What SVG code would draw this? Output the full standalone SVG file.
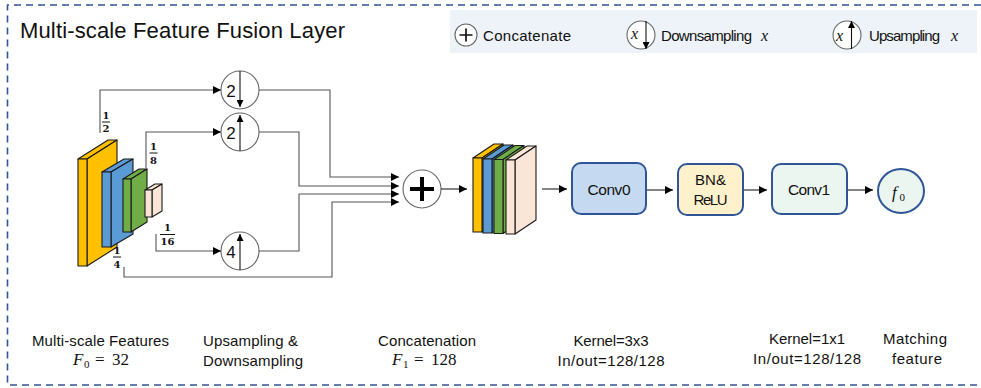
<svg xmlns="http://www.w3.org/2000/svg" width="981" height="388" viewBox="0 0 981 388">
  <defs>
    <marker id="arr" viewBox="0 0 10 10" refX="10" refY="5" markerWidth="9" markerHeight="8" markerUnits="userSpaceOnUse" orient="auto">
      <path d="M0,0 L10,5 L0,10 z" fill="#000"/>
    </marker>
    <marker id="arrS" viewBox="0 0 10 10" refX="10" refY="5" markerWidth="8" markerHeight="7" markerUnits="userSpaceOnUse" orient="auto">
      <path d="M0,0 L10,5 L0,10 z" fill="#000"/>
    </marker>
    <style>
      .sans { font-family: "Liberation Sans", Arial, sans-serif; fill: #111; }
      .serif { font-family: "Liberation Serif", "Times New Roman", serif; fill: #111; }
      .frac { font-family: "DejaVu Serif", "Liberation Serif", serif; font-size: 10px; font-weight: bold; fill: #111; text-anchor: middle; }
      .fbar { stroke: #111; stroke-width: 1; }
      .conn { fill: none; stroke: #555; stroke-width: 1.1; marker-end: url(#arr); }
      .flow { fill: none; stroke: #222; stroke-width: 1.1; marker-end: url(#arr); }
      .op { fill: #fff; stroke: #666; stroke-width: 1.1; }
      .opArrow { stroke: #111; stroke-width: 1.1; marker-end: url(#arrS); }
      .slab { stroke: #1a1a1a; stroke-width: 1.1; stroke-linejoin: round; }
      .box { stroke: #2F5597; stroke-width: 2; }
      .lbl { font-family: "Liberation Sans", Arial, sans-serif; font-size: 15px; fill: #111; text-anchor: middle; }
    </style>
  </defs>

  <rect width="981" height="388" fill="#fff"/>

  <!-- dashed frame (open on the right) -->
  <path d="M981,5 H7.5 V385 H981" fill="none" stroke="#2F5597" stroke-width="1.6" stroke-dasharray="7,5"/>

  <!-- title -->
  <text class="sans" x="20" y="38" font-size="22" textLength="325">Multi-scale Feature Fusion Layer</text>

  <!-- legend -->
  <g id="legend">
    <rect x="450" y="10" width="527" height="43" fill="#EDF3F9"/>
    <circle cx="466" cy="35" r="11" class="op" stroke="#444"/>
    <path d="M459.5,35 H472.5 M466,28.5 V41.5" stroke="#111" stroke-width="1.7"/>
    <text class="sans" x="483" y="40.5" font-size="15" textLength="88">Concatenate</text>

    <circle cx="641" cy="35" r="14" class="op" stroke="#444"/>
    <text class="serif" x="631" y="39" font-size="16" font-style="italic">x</text>
    <line x1="646" y1="21" x2="646" y2="49" class="opArrow"/>
    <text class="sans" x="661" y="40.5" font-size="15" textLength="91">Downsampling</text>
    <text class="serif" x="761" y="41" font-size="16" font-style="italic">x</text>

    <circle cx="847" cy="35" r="14" class="op" stroke="#444"/>
    <text class="serif" x="836" y="41" font-size="16" font-style="italic">x</text>
    <line x1="851.5" y1="49" x2="851.5" y2="21" class="opArrow"/>
    <text class="sans" x="869" y="40.5" font-size="15" textLength="71">Upsampling</text>
    <text class="serif" x="951" y="41" font-size="16" font-style="italic">x</text>
  </g>

  <!-- multi-scale feature maps -->
  <g id="features">
    <g fill="#FFC000" class="slab">
      <path d="M78,159 L108,140 L117,140 L87,159 z"/>
      <path d="M87,159 L117,140 L117,247 L87,266 z"/>
      <rect x="78" y="159" width="9" height="107"/>
    </g>
    <g fill="#5B9BD5" class="slab">
      <path d="M102,172 L124,159 L133,159 L111,172 z"/>
      <path d="M111,172 L133,159 L133,234 L111,247 z"/>
      <rect x="102" y="172" width="9" height="75"/>
    </g>
    <g fill="#70AD47" class="slab">
      <path d="M123,179 L139,169 L147,169 L131,179 z"/>
      <path d="M131,179 L147,169 L147,222 L131,232 z"/>
      <rect x="123" y="179" width="8" height="53"/>
    </g>
    <g fill="#FBE5D6" class="slab">
      <path d="M145,190 L155,184 L162,184 L152,190 z"/>
      <path d="M152,190 L162,184 L162,211 L152,217 z"/>
      <rect x="145" y="190" width="7" height="27"/>
    </g>
  </g>

  <!-- scale labels -->
  <g id="scales">
    <text class="frac" x="106" y="118.5">1</text>
    <line class="fbar" x1="102" y1="122" x2="110" y2="122"/>
    <text class="frac" x="106" y="132">2</text>

    <text class="frac" x="153.5" y="150">1</text>
    <line class="fbar" x1="149.5" y1="153" x2="157.5" y2="153"/>
    <text class="frac" x="153.5" y="163.5">8</text>

    <text class="frac" x="167.5" y="231">1</text>
    <line class="fbar" x1="160" y1="234.5" x2="175" y2="234.5"/>
    <text class="frac" x="167.5" y="244.5">16</text>

    <text class="frac" x="117" y="254">1</text>
    <line class="fbar" x1="113" y1="257" x2="121" y2="257"/>
    <text class="frac" x="117" y="267.5">4</text>
  </g>

  <!-- resampling operators -->
  <g id="down2">
    <circle cx="240" cy="90" r="19" class="op"/>
    <text class="sans" x="231" y="96.5" font-size="17" text-anchor="middle">2</text>
    <line x1="240" y1="71" x2="240" y2="107" class="opArrow"/>
  </g>
  <g id="up2">
    <circle cx="240" cy="132" r="19" class="op"/>
    <text class="sans" x="231" y="138.5" font-size="17" text-anchor="middle">2</text>
    <line x1="240" y1="151" x2="240" y2="115" class="opArrow"/>
  </g>
  <g id="up4">
    <circle cx="240" cy="251" r="19" class="op"/>
    <text class="sans" x="231" y="257.5" font-size="17" text-anchor="middle">4</text>
    <line x1="240" y1="270" x2="240" y2="234" class="opArrow"/>
  </g>

  <!-- concatenation -->
  <g id="concat">
    <circle cx="422" cy="189" r="19" class="op" stroke="#444"/>
    <path d="M410,189 H434 M422,177 V201" stroke="#000" stroke-width="4"/>
  </g>

  <!-- concatenated feature stack -->
  <g id="stack">
    <g fill="#FFC000" class="slab">
      <path d="M473,158 L494,144 L503,144 L482,158 z"/>
      <path d="M482,158 L503,144 L503,218 L482,232 z"/>
      <rect x="473" y="158" width="9" height="74"/>
    </g>
    <g fill="#5B9BD5" class="slab">
      <path d="M483,159 L504,145 L513,145 L492,159 z"/>
      <path d="M492,159 L513,145 L513,219 L492,233 z"/>
      <rect x="483" y="159" width="9" height="74"/>
    </g>
    <g fill="#70AD47" class="slab">
      <path d="M494,159.5 L515,145.5 L524,145.5 L503,159.5 z"/>
      <path d="M503,159.5 L524,145.5 L524,219.5 L503,233.5 z"/>
      <rect x="494" y="159.5" width="9" height="74"/>
    </g>
    <g fill="#FBE5D6" class="slab">
      <path d="M506,160 L527,146 L536,146 L515,160 z"/>
      <path d="M515,160 L536,146 L536,220 L515,234 z"/>
      <rect x="506" y="160" width="9" height="74"/>
    </g>
  </g>

  <!-- processing blocks -->
  <g id="conv0">
    <rect x="572" y="163" width="74" height="51" rx="9" fill="#C5DAF0" class="box"/>
    <text class="sans" x="609" y="195" font-size="15.5" text-anchor="middle" textLength="43">Conv0</text>
  </g>
  <g id="bnrelu">
    <rect x="678" y="164" width="65" height="51" rx="9" fill="#FFF1CC" class="box"/>
    <text class="sans" x="710.5" y="185" font-size="15" text-anchor="middle" textLength="31">BN&amp;</text>
    <text class="sans" x="710.5" y="205" font-size="15" text-anchor="middle" textLength="34">ReLU</text>
  </g>
  <g id="conv1">
    <rect x="772" y="164" width="75" height="50" rx="9" fill="#EBF6F1" class="box"/>
    <text class="sans" x="809" y="195" font-size="15.5" text-anchor="middle" textLength="42">Conv1</text>
  </g>
  <g id="f0">
    <ellipse cx="901" cy="191" rx="23" ry="22" fill="#EBF6F1" class="box"/>
    <text class="serif" x="892" y="198" font-size="17" font-style="italic">f</text>
    <text class="serif" x="899.5" y="201" font-size="11">0</text>
  </g>

  <!-- connectors -->
  <g id="connectors">
    <path class="conn" d="M100,133 V90 H221"/>
    <path class="conn" d="M146,168 V132 H221"/>
    <path class="conn" d="M156,234 V251 H221"/>
    <path class="conn" d="M259,90 H330 V177 H399"/>
    <path class="conn" d="M259,132 H299 V186 H399"/>
    <path class="conn" d="M259,251 H299 V194 H399"/>
    <path class="conn" d="M124,267 V277 H332 V202 H399"/>
    <path class="flow" d="M441,189 H467"/>
    <path class="flow" d="M542,189 H567"/>
    <path class="flow" d="M647,190 H673"/>
    <path class="flow" d="M744,190 H767"/>
    <path class="flow" d="M848,190 H873"/>
  </g>

  <!-- stage captions -->
  <g id="captions">
    <text class="lbl" x="100.5" y="345.5" textLength="137">Multi-scale Features</text>
    <g class="serif" font-size="17">
      <text x="73" y="365" font-style="italic">F</text>
      <text x="84" y="368" font-size="11">0</text>
      <text x="95" y="365">=</text>
      <text x="112" y="365">32</text>
    </g>

    <text class="sans" x="203" y="345.5" font-size="15" textLength="95">Upsampling &amp;</text>
    <text class="sans" x="203" y="365.5" font-size="15" textLength="100">Downsampling</text>

    <text class="lbl" x="427" y="345.5" textLength="98">Concatenation</text>
    <g class="serif" font-size="17">
      <text x="392" y="365" font-style="italic">F</text>
      <text x="403" y="368" font-size="11">1</text>
      <text x="414" y="365">=</text>
      <text x="431" y="365">128</text>
    </g>

    <text class="lbl" x="611" y="345.5" textLength="75">Kernel=3x3</text>
    <text class="lbl" x="611" y="365.5" textLength="107">In/out=128/128</text>

    <text class="lbl" x="807" y="343.5" textLength="76">Kernel=1x1</text>
    <text class="lbl" x="807" y="363.5" textLength="108">In/out=128/128</text>

    <text class="lbl" x="915" y="344" textLength="64">Matching</text>
    <text class="lbl" x="917" y="364" textLength="50">feature</text>
  </g>
</svg>
